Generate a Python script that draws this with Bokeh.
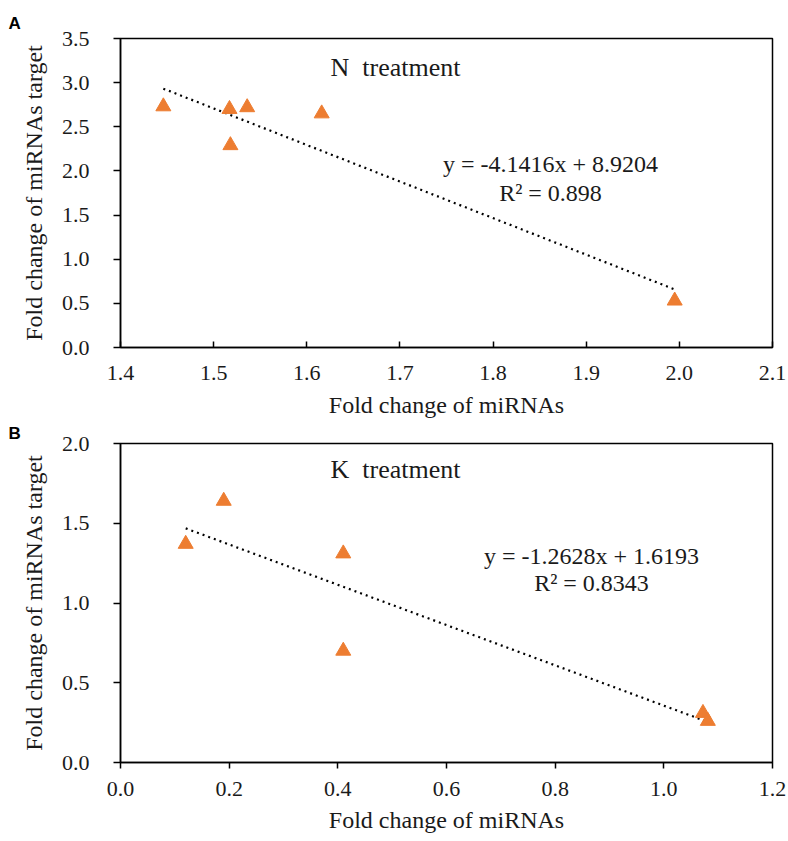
from bokeh.plotting import figure
from bokeh.layouts import column
from bokeh.models import Range1d, FixedTicker, NumeralTickFormatter, Label, Title
from bokeh.embed import file_html
from bokeh.resources import INLINE

# ---- data ----
n_x = [1.446, 1.517, 1.536, 1.616, 1.518, 1.995]
n_y = [2.73, 2.70, 2.72, 2.65, 2.29, 0.53]
n_slope, n_intercept, n_r2 = -4.1416, 8.9204, 0.898
n_xticks = [1.4, 1.5, 1.6, 1.7, 1.8, 1.9, 2.0, 2.1]
n_yticks = [0.0, 0.5, 1.0, 1.5, 2.0, 2.5, 3.0, 3.5]

k_x = [0.12, 0.19, 0.41, 0.41, 1.072, 1.081]
k_y = [1.37, 1.64, 1.31, 0.70, 0.31, 0.26]
k_slope, k_intercept, k_r2 = -1.2628, 1.6193, 0.8343
k_xticks = [0.0, 0.2, 0.4, 0.6, 0.8, 1.0, 1.2]
k_yticks = [0.0, 0.5, 1.0, 1.5, 2.0]

SERIF = "Liberation Serif"
ORANGE = "#ED7D31"
TXT = "#1a1a1a"


def make_panel(xs, ys, slope, intercept, r2, xticks, yticks, height, top, bottom,
               xtick_in, title, letter, letter_standoff):
    p = figure(width=788, height=height, output_backend="svg", toolbar_location=None,
               x_range=Range1d(xticks[0], xticks[-1]), y_range=Range1d(yticks[0], yticks[-1]),
               min_border_left=120, min_border_right=16, min_border_top=top,
               min_border_bottom=bottom)
    p.title = Title(text=letter, align="left", offset=-112, standoff=letter_standoff,
                    text_font="Liberation Sans", text_font_size="17px",
                    text_font_style="bold", text_color="black")
    p.xgrid.visible = False
    p.ygrid.visible = False
    p.outline_line_color = "black"
    p.outline_line_width = 1.5
    p.background_fill_color = "white"
    p.border_fill_color = "white"

    xa, ya = p.xaxis[0], p.yaxis[0]
    xa.ticker = FixedTicker(ticks=xticks)
    ya.ticker = FixedTicker(ticks=yticks)
    for ax in (xa, ya):
        ax.formatter = NumeralTickFormatter(format="0.0")
        ax.axis_line_color = "black"
        ax.axis_line_width = 1.5
        ax.major_tick_line_color = "black"
        ax.major_tick_line_width = 1.5
        ax.minor_tick_line_color = None
        ax.major_label_text_font = SERIF
        ax.major_label_text_font_size = "22px"
        ax.major_label_text_color = TXT
        ax.axis_label_text_font = SERIF
        ax.axis_label_text_font_size = "24px"
        ax.axis_label_text_font_style = "normal"
        ax.axis_label_text_color = TXT
    if xtick_in:
        xa.major_tick_in = 6
        xa.major_tick_out = 0
        xa.major_label_standoff = 18
        xa.axis_label_standoff = 9
    else:
        xa.major_tick_in = 0
        xa.major_tick_out = 6
        xa.major_label_standoff = 13
        xa.axis_label_standoff = 8
    ya.major_tick_in = 0
    ya.major_tick_out = 7
    ya.major_label_standoff = 24
    ya.axis_label_standoff = 12
    xa.axis_label = "Fold change of miRNAs"
    ya.axis_label = "Fold change of miRNAs target"

    # trend line from the fitted equation
    x0, x1 = min(xs), max(xs)
    p.line([x0, x1], [slope * x0 + intercept, slope * x1 + intercept],
           line_color="black", line_width=2.2, line_dash="2 4")
    p.scatter(xs, ys, marker="triangle", size=15, fill_color=ORANGE, line_color=ORANGE)

    xr = xticks[-1] - xticks[0]
    yr = yticks[-1] - yticks[0]
    pw, ph = 652.0, float(height - top - bottom)

    def dx(px):
        return xticks[0] + px * xr / pw

    def dy(py):  # py measured up from plot bottom
        return yticks[0] + py * yr / ph

    p.add_layout(Label(x=dx(210), y=dy(title[1]), text=title[0], text_font=SERIF,
                       text_font_size="26px", text_color=TXT,
                       text_baseline="alphabetic", text_align="left"))
    sign = "-" if slope < 0 else ""
    eq = f"y = {sign}{abs(slope):.4f}x + {intercept:.4f}"
    p.add_layout(Label(x=dx(title[2]), y=dy(title[3]), text=eq, text_font=SERIF,
                       text_font_size="24px", text_color=TXT,
                       text_baseline="alphabetic", text_align="center"))
    p.add_layout(Label(x=dx(title[2]), y=dy(title[4]), text=f"R\u00b2 = {r2}", text_font=SERIF,
                       text_font_size="24px", text_color=TXT,
                       text_baseline="alphabetic", text_align="center"))
    return p


# panel A: plot box page y 38..347 (figure 0..420)
pA = make_panel(n_x, n_y, n_slope, n_intercept, n_r2, n_xticks, n_yticks,
                height=420, top=38, bottom=73, xtick_in=True,
                title=("N\u00a0 treatment", 347 - 67, 430, 347 - 163, 347 - 192),
                letter="A", letter_standoff=11)
# panel B: plot box page y 442..762 (figure 420..841)
pB = make_panel(k_x, k_y, k_slope, k_intercept, k_r2, k_xticks, k_yticks,
                height=421, top=22, bottom=79, xtick_in=False,
                title=("K\u00a0 treatment", 762 - 468, 471, 762 - 555, 762 - 582),
                letter="B", letter_standoff=2)

layout = column(pA, pB, spacing=0)
open("out.html", "w").write(file_html(layout, INLINE))
